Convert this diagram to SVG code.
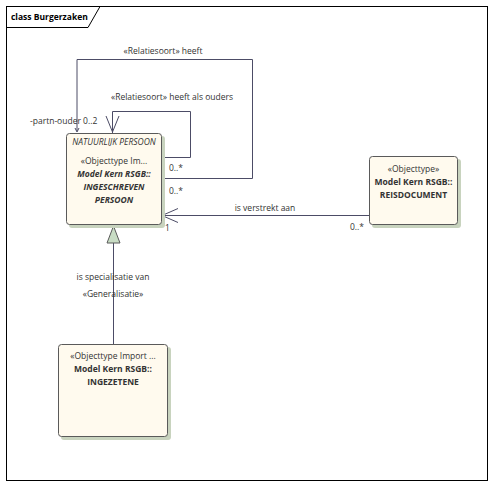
<svg xmlns="http://www.w3.org/2000/svg" width="494" height="486" viewBox="0 0 494 486">
<style>
text{font-family:"Open Sans","DejaVu Sans",sans-serif;font-size:8.5px;fill:#333;}
.c{text-anchor:middle;}
.b{font-weight:bold;}
.i{font-style:italic;}
.box{fill:#FFFAEE;stroke:#5a5a5a;stroke-width:1;}
.sh{fill:#C8D3BE;}
.ln{fill:none;stroke:#4c4c66;stroke-width:1;}
</style>
<rect x="0" y="0" width="494" height="486" fill="#fff"/>
<g id="frame">
<rect x="6.5" y="6.5" width="481" height="474" fill="none" stroke="#000" stroke-width="1"/>
<path d="M6.5 27.5 H88 L100 6.5" fill="none" stroke="#000" stroke-width="1"/>
<text x="11" y="20" class="b" style="fill:#000">class Burgerzaken</text>
</g>
<g id="connectors">
<path class="ln" d="M77 131 V59.5 H252.5 V178.5 H162"/>
<path class="ln" d="M75 128 L77 132 L79 128"/>
<path class="ln" d="M112.5 133 V111.5 H190.5 V157.5 H162"/>
<path class="ln" d="M106 116 L112.5 132 L119 116"/>
<path class="ln" d="M369 215.5 H162"/>
<path class="ln" d="M178 208.5 L162 215.5 L178 222.5"/>
<path class="ln" d="M113.5 344 V243"/>
<path d="M113.5 226 L120 243 H107 Z" fill="#C8DCC4" stroke="#5a5a5a" stroke-width="1"/>
<text x="163" y="54" class="c">«Relatiesoort» heeft</text>
<text x="172" y="100" class="c">«Relatiesoort» heeft als ouders</text>
<text x="30" y="124">-partn-ouder 0..2</text>
<text x="169" y="171">0..*</text>
<text x="169" y="194">0..*</text>
<text x="265" y="211" class="c">is verstrekt aan</text>
<text x="350" y="230">0..*</text>
<text x="165" y="231">1</text>
<text x="113" y="280" class="c">is specialisatie van</text>
<text x="113" y="297" class="c">«Generalisatie»</text>
</g>
<g id="natuurlijk-persoon">
<rect class="sh" x="69" y="136" width="96" height="92" rx="3"/>
<rect class="box" x="66.5" y="133.5" width="95" height="91" rx="3"/>
<text x="114" y="145" class="c i">NATUURLIJK PERSOON</text>
<text x="114" y="164" class="c">«Objecttype Im...</text>
<text x="114" y="177" class="c b i">Model Kern RSGB::</text>
<text x="114" y="190" class="c b i">INGESCHREVEN</text>
<text x="114" y="203" class="c b i">PERSOON</text>
</g>
<g id="reisdocument">
<rect class="sh" x="372" y="159" width="89" height="69" rx="3"/>
<rect class="box" x="369.5" y="156.5" width="88" height="68" rx="3"/>
<text x="413.5" y="172" class="c">«Objecttype»</text>
<text x="413.5" y="185" class="c b">Model Kern RSGB::</text>
<text x="413.5" y="198" class="c b">REISDOCUMENT</text>
</g>
<g id="ingezetene">
<rect class="sh" x="61" y="347" width="110" height="93" rx="3"/>
<rect class="box" x="58.5" y="344.5" width="109" height="92" rx="3"/>
<text x="113" y="359" class="c">«Objecttype Import ...</text>
<text x="113" y="372" class="c b">Model Kern RSGB::</text>
<text x="113" y="385" class="c b">INGEZETENE</text>
</g>
</svg>
